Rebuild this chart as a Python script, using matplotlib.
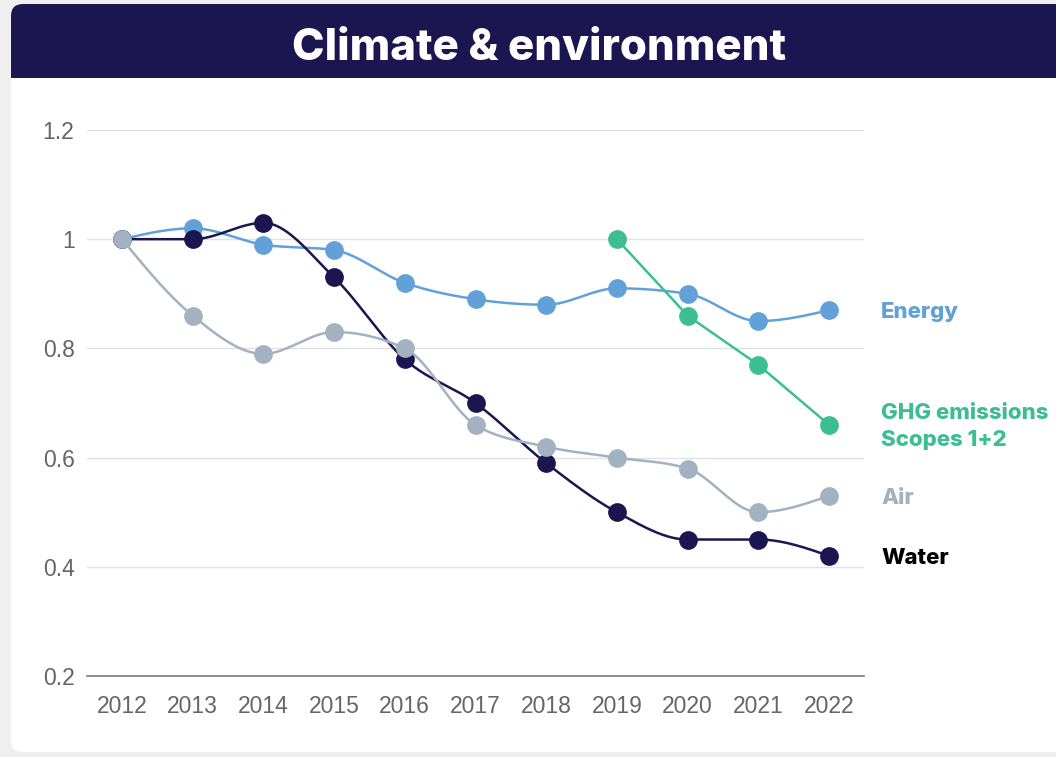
import numpy as np
import matplotlib.pyplot as plt
from matplotlib.patches import FancyBboxPatch, Rectangle
from matplotlib.transforms import blended_transform_factory

years = [2012, 2013, 2014, 2015, 2016, 2017, 2018, 2019, 2020, 2021, 2022]
energy = [1.0, 1.02, 0.99, 0.98, 0.92, 0.89, 0.88, 0.91, 0.90, 0.85, 0.87]
water = [1.0, 1.0, 1.03, 0.93, 0.78, 0.70, 0.59, 0.50, 0.45, 0.45, 0.42]
air = [1.0, 0.86, 0.79, 0.83, 0.80, 0.66, 0.62, 0.60, 0.58, 0.50, 0.53]
ghg_years = [2019, 2020, 2021, 2022]
ghg = [1.0, 0.86, 0.77, 0.66]
yticks = [0.2, 0.4, 0.6, 0.8, 1.0, 1.2]
ytick_labels = ['0.2', '0.4', '0.6', '0.8', '1', '1.2']

NAVY = '#1b1650'
BLUE = '#62a1d8'
GREY = '#a2b2c0'
GREEN = '#3dbe91'


def monotone_x(x, y, n=40):
    # monotone cubic (Steffen) curve through the points, like d3.curveMonotoneX
    x = np.asarray(x, float)
    y = np.asarray(y, float)
    h = np.diff(x)
    s = np.diff(y) / h
    t = np.zeros(len(x))
    sgn = lambda v: -1.0 if v < 0 else 1.0
    for i in range(1, len(x) - 1):
        p = (s[i - 1] * h[i] + s[i] * h[i - 1]) / (h[i - 1] + h[i])
        t[i] = (sgn(s[i - 1]) + sgn(s[i])) * min(abs(s[i - 1]), abs(s[i]), 0.5 * abs(p))
    t[0] = (3 * s[0] - t[1]) / 2
    t[-1] = (3 * s[-1] - t[-2]) / 2
    xs, ys = [], []
    for i in range(len(x) - 1):
        u = np.linspace(0, 1, n)
        h00 = 2 * u**3 - 3 * u**2 + 1
        h10 = u**3 - 2 * u**2 + u
        h01 = -2 * u**3 + 3 * u**2
        h11 = u**3 - u**2
        xs.append(x[i] + u * h[i])
        ys.append(h00 * y[i] + h10 * h[i] * t[i] + h01 * y[i + 1] + h11 * h[i] * t[i + 1])
    return np.concatenate(xs), np.concatenate(ys)


fig = plt.figure(figsize=(10.56, 7.57), dpi=100)
fig.patch.set_facecolor('#efefef')

# card background + header band, in pixel coordinates
bg = fig.add_axes([0, 0, 1, 1], zorder=0)
bg.set_xlim(0, 1056)
bg.set_ylim(757, 0)
bg.axis('off')
bg.add_patch(FancyBboxPatch((11, 4), 1100, 748, boxstyle='round,pad=0,rounding_size=12',
                            fc='white', ec='none'))
bg.add_patch(FancyBboxPatch((11, 4), 1100, 100, boxstyle='round,pad=0,rounding_size=12',
                            fc=NAVY, ec='none'))
bg.add_patch(Rectangle((11, 78), 1100, 40, fc='white', ec='none'))
bg.text(539, 44, 'Climate & environment', color='white', fontsize=31.5, fontweight='heavy',
        family='Inter', ha='center', va='center_baseline')

ax = fig.add_axes([87 / 1056, 1 - 676 / 757, 777 / 1056, 546 / 757], zorder=1)
ax.set_facecolor('none')
ax.set_xlim(2011.505, 2022.495)
ax.set_ylim(0.2, 1.2)
for sp in ax.spines.values():
    sp.set_visible(False)
for v in yticks[1:]:
    ax.axhline(v, color='#e2e2e2', lw=1, zorder=0)
ax.axhline(0.2, color='#7a7a7a', lw=1.2, zorder=0, clip_on=False)

ax.set_xticks(years)
ax.set_xticklabels([str(y) for y in years])
ax.set_yticks(yticks)
ax.set_yticklabels(ytick_labels)
ax.tick_params(length=0, labelcolor='#666666', labelsize=16.5)
ax.tick_params(axis='y', pad=9)
ax.tick_params(axis='x', pad=14)
for lab in ax.get_xticklabels() + ax.get_yticklabels():
    lab.set_family('Liberation Sans')

ms = 13.5
lw = 1.8
for vals, col in [(energy, BLUE), (water, NAVY), (air, GREY)]:
    cx, cy = monotone_x(years, vals)
    ax.plot(cx, cy, color=col, lw=lw, zorder=2, solid_capstyle='round')
    ax.plot(years, vals, 'o', color=col, ms=ms, mec='none', zorder=2)
ax.plot(ghg_years, ghg, '-o', color=GREEN, lw=lw, ms=ms, mec='none', zorder=2)

# end labels
tr = blended_transform_factory(ax.transAxes, ax.transData)
lx = 1 + 17 / 777
lbl = dict(transform=tr, fontsize=16, fontweight='heavy', family='Inter', va='center_baseline',
           ha='left', clip_on=False)
ax.text(lx, energy[-1], 'Energy', color=BLUE, **lbl)
ax.text(lx, air[-1], 'Air', color=GREY, **lbl)
ax.text(lx, water[-1], 'Water', color='black', **lbl)
ax.text(lx, ghg[-1] + 0.025, 'GHG emissions', color=GREEN, **lbl)
ax.text(lx, ghg[-1] - 0.025, 'Scopes 1+2', color=GREEN, **lbl)

fig.savefig('out.png', dpi=100, facecolor=fig.get_facecolor())
